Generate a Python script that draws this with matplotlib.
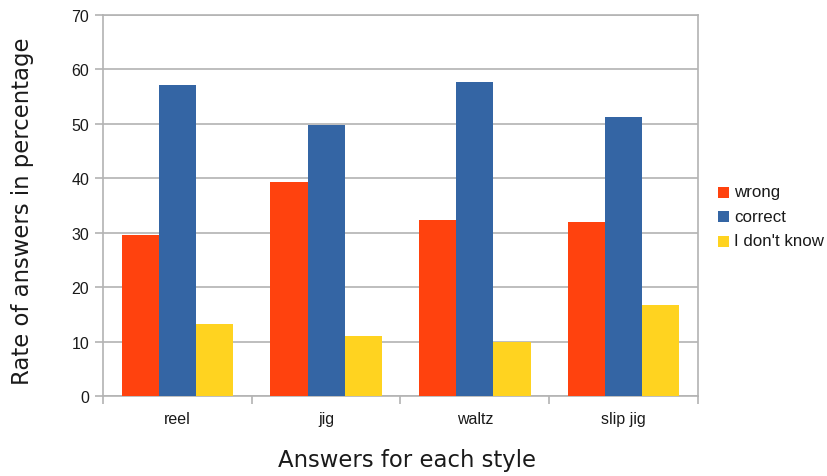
import matplotlib
matplotlib.use("Agg")
import matplotlib.pyplot as plt
import numpy as np
from matplotlib.patches import Rectangle

styles = ["reel", "jig", "waltz", "slip jig"]
series_names = ["wrong", "correct", "I don't know"]
wrong = [29.6, 39.3, 32.3, 31.9]
correct = [57.1, 49.7, 57.7, 51.3]
dont_know = [13.3, 11.0, 10.0, 16.8]
y_ticks = [0, 10, 20, 30, 40, 50, 60, 70]

colors = ["#FF420E", "#3465A4", "#FFD320"]
grid_col = "#b3b3b3"
text_col = "#1a1a1a"

W, H = 828, 477
fig = plt.figure(figsize=(W / 100, H / 100), dpi=100)
ax = fig.add_axes([103 / W, 80 / H, 595 / W, 381 / H])

x = np.arange(len(styles))
w = 0.25
for i, (vals, c) in enumerate(zip([wrong, correct, dont_know], colors)):
    ax.bar(x + (i - 1) * w, vals, width=w, color=c, edgecolor="none", zorder=3)

ax.set_xlim(-0.5, len(styles) - 0.5)
ax.set_ylim(0, 70)
ax.set_yticks(y_ticks)
ax.yaxis.grid(True, color=grid_col, linewidth=1.2, zorder=0)
ax.set_axisbelow(True)

# category labels centred, tick marks at category boundaries
ax.set_xticks(x)
ax.set_xticklabels(styles, fontfamily="Liberation Sans", fontsize=11.5, color=text_col)
ax.tick_params(axis="x", length=0, pad=11)
ax.set_xticks(np.arange(len(styles) + 1) - 0.5, minor=True)
ax.tick_params(axis="x", which="minor", length=6, width=1.2, color=grid_col)
ax.tick_params(axis="y", length=6, width=1.2, color=grid_col, pad=4,
               labelsize=11.5, labelcolor=text_col)
for lbl in ax.get_yticklabels():
    lbl.set_fontfamily("Liberation Sans")

for sp in ax.spines.values():
    sp.set_color(grid_col)
    sp.set_linewidth(1.2)

# axis titles
fig.text(23 / W, 1 - 211.5 / H, "Rate of answers in percentage",
         rotation=90, ha="center", va="center", fontfamily="DejaVu Sans",
         fontsize=16.4, color=text_col)
fig.text(407.5 / W, 1 - 461 / H, "Answers for each style",
         ha="center", va="center", fontfamily="DejaVu Sans",
         fontsize=16.4, color=text_col)

# legend: colour squares with series names
sq = 11
for k, (name, c) in enumerate(zip(series_names, colors)):
    yc = 193 + k * 24.5
    fig.patches.append(Rectangle((718 / W, 1 - (yc + sq / 2) / H), sq / W, sq / H,
                                 transform=fig.transFigure, facecolor=c,
                                 edgecolor="none"))
    fig.text(734 / W, 1 - yc / H, name, ha="left", va="center",
             fontfamily="Liberation Sans", fontsize=12.2, color=text_col)

fig.savefig("out.png", dpi=100)
